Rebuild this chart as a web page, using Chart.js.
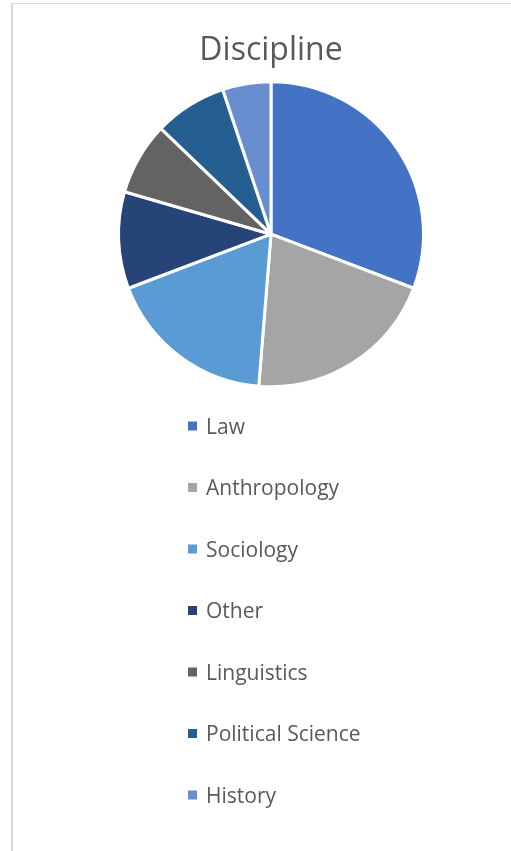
<!DOCTYPE html>
<html>
<head>
<meta charset="utf-8">
<script src="https://cdn.jsdelivr.net/npm/chart.js@4"></script>
<style>
  html, body { margin: 0; padding: 0; background: #fff; overflow: hidden; }
  body { width: 511px; height: 851px; position: relative; }
  .frame {
    position: absolute; left: 11px; top: 3px; width: 600px; height: 900px;
    border-left: 2px solid #d9d9d9; border-top: 1px solid #d9d9d9;
  }
  #pie { position: absolute; left: 13px; top: 4px; }
</style>
</head>
<body>
<div class="frame"></div>
<canvas id="pie" width="516" height="847"></canvas>
<script>
// ---------- Data ----------
const categories = ["Law", "Anthropology", "Sociology", "Other", "Linguistics", "Political Science", "History"];
const counts = [12, 8, 7, 4, 3, 3, 2];
const sliceColors = ["#4472C4", "#A5A5A5", "#5B9BD5", "#264478", "#636363", "#255E91", "#698ED0"];

// ---------- Vertical legend under the pie ----------
const listLegend = {
  id: "listLegend",
  afterDraw(chart, args, opts) {
    const ctx = chart.ctx;
    const ds = chart.data.datasets[0];
    ctx.save();
    ctx.font = opts.size + "px " + opts.family;
    ctx.textBaseline = "middle";
    chart.data.labels.forEach((label, i) => {
      const y = opts.top + i * opts.spacing;
      ctx.fillStyle = ds.backgroundColor[i];
      ctx.fillRect(opts.left, y - opts.box / 2, opts.box, opts.box);
      ctx.fillStyle = opts.color;
      ctx.fillText(label, opts.left + opts.box + opts.gap, y + opts.textShift);
    });
    ctx.restore();
  }
};

new Chart(document.getElementById("pie"), {
  type: "pie",
  data: {
    labels: categories,
    datasets: [{
      data: counts,
      backgroundColor: sliceColors,
      borderColor: "#fff",
      borderWidth: 3,
      hoverOffset: 0
    }]
  },
  options: {
    responsive: false,
    animation: false,
    radius: 152.5,
    layout: { padding: { bottom: 459 } },
    plugins: {
      legend: { display: false },
      tooltip: { enabled: false },
      title: {
        display: true,
        text: "Discipline",
        color: "#595959",
        font: { family: "'Open Sans'", size: 32, weight: "normal", lineHeight: 1.2 },
        padding: { top: 28, bottom: 6 }
      },
      listLegend: {
        top: 422, spacing: 61.5, left: 175, box: 9, gap: 9, textShift: 2,
        size: 21, family: "'Open Sans'", color: "#595959"
      }
    }
  },
  plugins: [listLegend]
});
</script>
</body>
</html>
